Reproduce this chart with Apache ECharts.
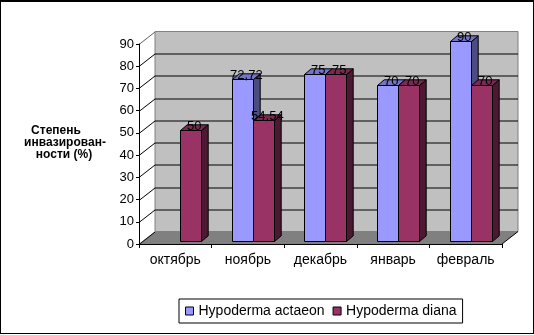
<!DOCTYPE html>
<html>
<head>
<meta charset="utf-8">
<script src="https://cdn.jsdelivr.net/npm/echarts@6/dist/echarts.min.js"></script>
<style>
html, body { margin: 0; padding: 0; background: #fff; }
#chart { width: 534px; height: 335px; }
</style>
</head>
<body>
<div id="chart"></div>
<script>
// ---- data ----
const categories = ['октябрь', 'ноябрь', 'декабрь', 'январь', 'февраль'];
const actaeon = [null, 72.72, 75, 70, 90];
const diana = [50, 54.54, 75, 70, 70];
const yTicks = [0, 10, 20, 30, 40, 50, 60, 70, 80, 90];
const seriesNames = ['Hypoderma actaeon', 'Hypoderma diana'];

// ---- pseudo-3D geometry (pixel offsets relative to the front axis plane) ----
const WALL_DX = 16, WALL_DY = -12.5;      // depth of the box (back wall)
const BAR_DX = 4.8, BAR_DY = -3;          // bars stand a little behind the front plane
const BAR_DEPTH_DX = 6.7, BAR_DEPTH_DY = -5.7;
const BAR_FRAC = 0.29;                    // bar width as a share of the category band
const FONT = 'Liberation Sans, Arial, sans-serif';

const palette = {
  actaeon: { front: '#9999FF', top: '#7373C8', side: '#4C4C80' },
  diana:   { front: '#993366', top: '#7A2952', side: '#4C1933' }
};

// Back wall, floor, left-side grid lines
function renderBox(params, api) {
  const cs = params.coordSys;
  const x0 = cs.x, x1 = cs.x + cs.width;
  const yOf = v => api.coord([0, v])[1];
  const y0 = yOf(0), yTop = yOf(yTicks[yTicks.length - 1]);
  const children = [];
  // back wall
  children.push({
    type: 'polygon',
    shape: { points: [[x0 + WALL_DX, yTop + WALL_DY], [x1 + WALL_DX, yTop + WALL_DY],
                      [x1 + WALL_DX, y0 + WALL_DY], [x0 + WALL_DX, y0 + WALL_DY]] },
    style: { fill: '#C0C0C0', stroke: '#808080', lineWidth: 1 }
  });
  // floor
  children.push({
    type: 'polygon',
    shape: { points: [[x0, y0], [x0 + WALL_DX, y0 + WALL_DY], [x1 + WALL_DX, y0 + WALL_DY], [x1, y0]] },
    style: { fill: '#808080' }
  });
  // horizontal grid lines on the back wall and diagonals on the side wall
  yTicks.forEach((v, i) => {
    const y = Math.round(yOf(v)) + 0.5;
    const last = i === yTicks.length - 1;
    if (i > 0 && !last) {
      children.push({
        type: 'line',
        shape: { x1: x0 + WALL_DX, y1: y + WALL_DY, x2: x1 + WALL_DX, y2: y + WALL_DY },
        style: { stroke: '#000', lineWidth: 1 }
      });
    }
    children.push({
      type: 'line',
      shape: { x1: x0, y1: y, x2: x0 + WALL_DX, y2: y + WALL_DY },
      style: { stroke: last ? '#606060' : '#000', lineWidth: 1 }
    });
  });
  // right edge of the floor
  children.push({
    type: 'line',
    shape: { x1: x1, y1: y0, x2: x1 + WALL_DX, y2: y0 + WALL_DY },
    style: { stroke: '#000', lineWidth: 1 }
  });
  return { type: 'group', children: children };
}

function fmt(v) {
  return String(v).replace('.', ',');
}

function makeBarRenderer(colors, slot) {
  return function (params, api) {
    const idx = api.value(0), v = api.value(1);
    if (v == null || isNaN(v)) return null;
    const base = api.coord([idx, 0]);
    const top = api.coord([idx, v]);
    const band = api.size([1, 0])[0];
    const w = Math.round(band * BAR_FRAC);
    const xl = Math.round(base[0] + BAR_DX + slot * w) + 0.5;
    const xr = xl + w;
    const yb = Math.round(base[1] + BAR_DY) + 0.5;
    const yt = Math.round(top[1] + BAR_DY) + 0.5;
    const dx = BAR_DEPTH_DX, dy = BAR_DEPTH_DY;
    const line = { stroke: '#000', lineWidth: 1 };
    return {
      type: 'group',
      children: [
        { type: 'polygon', shape: { points: [[xr, yt], [xr + dx, yt + dy], [xr + dx, yb + dy], [xr, yb]] },
          style: Object.assign({ fill: colors.side }, line) },
        { type: 'polygon', shape: { points: [[xl, yt], [xl + dx, yt + dy], [xr + dx, yt + dy], [xr, yt]] },
          style: Object.assign({ fill: colors.top }, line) },
        { type: 'rect', shape: { x: xl, y: yt, width: w, height: yb - yt },
          style: Object.assign({ fill: colors.front }, line) },
        { type: 'text', z2: 100, x: (xl + xr) / 2 + dx / 2, y: yt - 4,
          style: { text: fmt(v), fill: '#000', font: '13px ' + FONT,
                   textAlign: 'center', textVerticalAlign: 'middle' } }
      ]
    };
  };
}

const chart = echarts.init(document.getElementById('chart'), null, { renderer: 'canvas' });

chart.setOption({
  backgroundColor: '#fff',
  animation: false,
  grid: { left: 139, top: 44, width: 363, height: 200 },
  xAxis: {
    type: 'category',
    data: categories,
    z: 10,
    axisLine: { lineStyle: { color: '#000', width: 1 } },
    axisTick: { show: true, length: 4, lineStyle: { color: '#000' } },
    axisLabel: { color: '#000', fontSize: 14, fontFamily: FONT, margin: 9, interval: 0 },
    splitLine: { show: false }
  },
  yAxis: {
    type: 'value',
    min: 0, max: 90, interval: 10,
    z: 10,
    axisLine: { show: true, lineStyle: { color: '#000', width: 1 } },
    axisTick: { show: true, length: 3, lineStyle: { color: '#000' } },
    axisLabel: { color: '#000', fontSize: 13, fontFamily: FONT, margin: 5,
                 formatter: v => (yTicks.indexOf(v) >= 0 ? String(v) : '') },
    splitLine: { show: false }
  },
  legend: {
    left: 179, top: 299,
    orient: 'horizontal',
    padding: [5, 6, 5, 6],
    itemGap: 8,
    itemWidth: 8, itemHeight: 8,
    icon: 'rect',
    borderColor: '#000', borderWidth: 1,
    backgroundColor: '#fff',
    textStyle: { color: '#000', fontSize: 14, fontFamily: FONT },
    itemStyle: { borderColor: '#000', borderWidth: 1 },
    data: seriesNames
  },
  graphic: [
    { type: 'rect', shape: { x: 0, y: 0, width: 534, height: 2 }, style: { fill: '#000' } },
    { type: 'rect', shape: { x: 0, y: 0, width: 1, height: 334 }, style: { fill: '#000' } },
    { type: 'rect', shape: { x: 533, y: 0, width: 1, height: 334 }, style: { fill: '#000' } },
    { type: 'rect', shape: { x: 0, y: 333, width: 534, height: 1 }, style: { fill: '#000' } },
    { type: 'text', x: 56, y: 131, style: { text: 'Степень', font: 'bold 12px ' + FONT, fill: '#000', textAlign: 'center', textVerticalAlign: 'middle' } },
    { type: 'text', x: 65, y: 143, style: { text: 'инвазирован-', font: 'bold 12px ' + FONT, fill: '#000', textAlign: 'center', textVerticalAlign: 'middle' } },
    { type: 'text', x: 64, y: 154.5, style: { text: 'ности (%)', font: 'bold 12px ' + FONT, fill: '#000', textAlign: 'center', textVerticalAlign: 'middle' } }
  ],
  series: [
    {
      type: 'custom',
      silent: true,
      z: 1,
      renderItem: renderBox,
      data: [[0, 0]],
      tooltip: { show: false }
    },
    {
      name: seriesNames[0],
      type: 'custom',
      z: 3,
      itemStyle: { color: palette.actaeon.front, borderColor: '#000', borderWidth: 1 },
      renderItem: makeBarRenderer(palette.actaeon, -1),
      encode: { x: 0, y: 1 },
      data: categories.map((c, i) => [i, actaeon[i]])
    },
    {
      name: seriesNames[1],
      type: 'custom',
      z: 3,
      itemStyle: { color: palette.diana.front, borderColor: '#000', borderWidth: 1 },
      renderItem: makeBarRenderer(palette.diana, 0),
      encode: { x: 0, y: 1 },
      data: categories.map((c, i) => [i, diana[i]])
    }
  ]
});
</script>
</body>
</html>
